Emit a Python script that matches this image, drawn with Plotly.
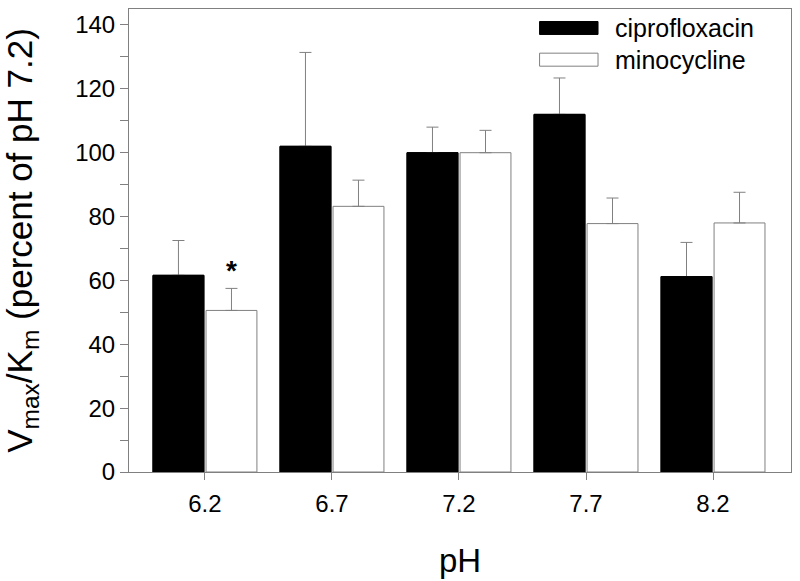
import plotly.graph_objects as go

ph = [6.2, 6.7, 7.2, 7.7, 8.2]
tick_labels = ["6.2", "6.7", "7.2", "7.7", "8.2"]
cipro = [61.6, 102.0, 100.0, 112.0, 61.2]
cipro_err = [10.9, 29.4, 8.0, 11.4, 10.7]
mino = [50.6, 83.2, 100.0, 77.8, 78.0]
mino_err = [6.9, 8.2, 7.0, 8.0, 9.6]
zeros = [0, 0, 0, 0, 0]

GRAY = "#808080"
FONT = "Liberation Sans, Arial, sans-serif"

fig = go.Figure()
fig.add_trace(go.Bar(
    x=ph, y=cipro, name="ciprofloxacin", offsetgroup="cipro",
    marker=dict(color="black", line=dict(color="black", width=1)),
    error_y=dict(type="data", array=cipro_err, arrayminus=zeros, symmetric=False,
                 color=GRAY, thickness=1, width=6),
    showlegend=False,
))
fig.add_trace(go.Bar(
    x=ph, y=mino, name="minocycline", offsetgroup="mino",
    marker=dict(color="white", line=dict(color=GRAY, width=1)),
    error_y=dict(type="data", array=mino_err, arrayminus=zeros, symmetric=False,
                 color=GRAY, thickness=1, width=6),
    showlegend=False,
))
# same ciprofloxacin bars again on top, so the error bar foot does not show on the black tops
fig.add_trace(go.Bar(
    x=ph, y=cipro, name="ciprofloxacin", offsetgroup="cipro",
    marker=dict(color="black", line=dict(color="black", width=1)),
    showlegend=False, hoverinfo="skip",
))

# significance marker
fig.add_annotation(x=6.303, y=63.0, xref="x", yref="y", text="<b>*</b>",
                   showarrow=False, font=dict(size=28, color="black", family=FONT))

# manual legend
legend_items = [("ciprofloxacin", "black", "black", 0.9730, 0.9450),
                ("minocycline", "white", GRAY, 0.9046, 0.8765)]
for label, fill, edge, y1, y0 in legend_items:
    fig.add_shape(type="rect", xref="x domain", yref="y domain",
                  x0=0.6202, x1=0.7085, y0=y0, y1=y1,
                  fillcolor=fill, line=dict(color=edge, width=1))
    fig.add_annotation(xref="x domain", yref="y domain", x=0.7305, y=(y0 + y1) / 2,
                       text=label, showarrow=False, xanchor="left", yanchor="middle",
                       font=dict(size=25, color="black", family=FONT))

fig.update_layout(
    width=800, height=581, autosize=False, showlegend=False,
    margin=dict(l=129, r=9, t=9, b=109, autoexpand=False),
    paper_bgcolor="white", plot_bgcolor="white",
    barmode="group", bargap=0.165, bargroupgap=0.04,
    font=dict(family=FONT, color="black"),
    xaxis=dict(
        range=[5.901, 8.507], tickvals=ph, ticktext=tick_labels, automargin=False,
        showline=True, linecolor=GRAY, linewidth=1, mirror=True,
        ticks="outside", ticklen=7, tickcolor=GRAY, showgrid=False, zeroline=False,
        ticklabelstandoff=3,
        tickfont=dict(size=24, family=FONT, color="black"),
        title=dict(text="pH", font=dict(size=33, family=FONT, color="black"), standoff=33),
    ),
    yaxis=dict(
        range=[0, 145], tickvals=[0, 20, 40, 60, 80, 100, 120, 140], automargin=False,
        showline=True, linecolor=GRAY, linewidth=1, mirror=True,
        ticks="outside", ticklen=8, tickcolor=GRAY, showgrid=False, zeroline=False,
        minor=dict(tickvals=[10, 30, 50, 70, 90, 110, 130], ticks="outside",
                   ticklen=8, tickcolor=GRAY, showgrid=False),
        tickfont=dict(size=24, family=FONT, color="black"),
        title=dict(text="V<sub>max</sub>/K<sub>m</sub> (percent of pH 7.2)",
                   font=dict(size=35, family=FONT, color="black"), standoff=40),
    ),
)

fig.write_html(
    "out.html",
    config={"displayModeBar": False, "responsive": False},
    post_script="document.body.style.margin='0';document.body.style.overflow='hidden';",
)
